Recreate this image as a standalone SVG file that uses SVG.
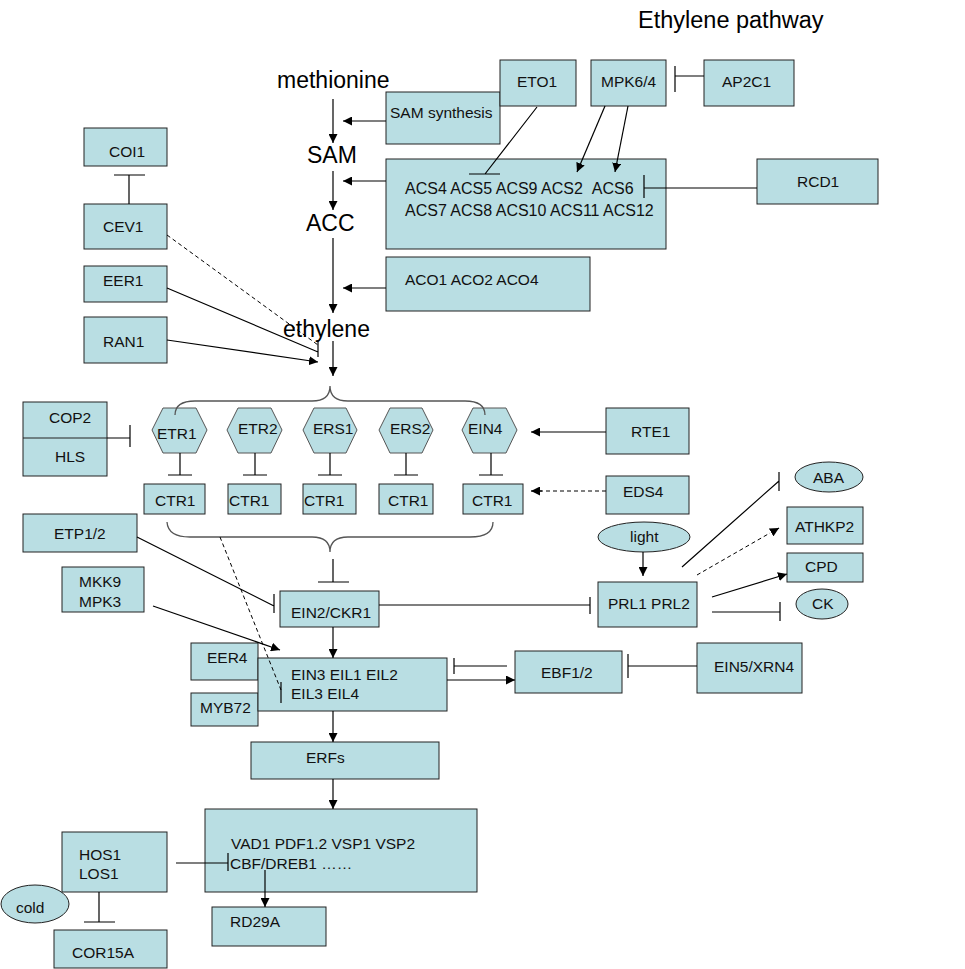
<svg xmlns="http://www.w3.org/2000/svg" width="965" height="969" viewBox="0 0 965 969">
<defs>
<marker id="ah" viewBox="0 0 10 10" refX="10" refY="5" markerWidth="9" markerHeight="9" markerUnits="userSpaceOnUse" orient="auto">
<path d="M0,0 L10,5 L0,10 z" fill="#000"/>
</marker>
</defs>
<style>
.b{fill:#b9dee3;stroke:#222;stroke-width:1}
.h{fill:#b9dee3;stroke:#555;stroke-width:1}
text{font-family:"Liberation Sans",Arial,sans-serif;font-size:15.5px;fill:#111}
.big{font-size:23px;fill:#000}
.l{stroke:#000;stroke-width:1.2;fill:none}
.a{stroke:#000;stroke-width:1.2;fill:none;marker-end:url(#ah)}
.d{stroke:#000;stroke-width:1;fill:none;stroke-dasharray:4,3}
.br{stroke:#555;stroke-width:1.3;fill:none}
</style>
<rect width="965" height="969" fill="#fff"/>
<text x="638" y="28" class="big" style="font-size:23.5px">Ethylene pathway</text>
<text x="277" y="88" class="big">methionine</text>
<text x="307" y="163" class="big">SAM</text>
<text x="306" y="231" class="big">ACC</text>
<text x="283" y="337" class="big">ethylene</text>

<g id="sam-synthesis"><rect class="b" x="386" y="92" width="114" height="52"/><text x="390" y="118">SAM synthesis</text></g>
<g id="eto1"><rect class="b" x="500" y="60" width="76" height="46"/><text x="517" y="87">ETO1</text></g>
<g id="mpk64"><rect class="b" x="591" y="60" width="75" height="46"/><text x="601" y="87">MPK6/4</text></g>
<g id="ap2c1"><rect class="b" x="704" y="60" width="90" height="46"/><text x="722" y="87">AP2C1</text></g>
<g id="acs"><rect class="b" x="386" y="159" width="280" height="90"/><text x="405" y="194" style="font-size:16px">ACS4 ACS5 ACS9 ACS2 &#160;ACS6</text><text x="405" y="216" style="font-size:16px">ACS7 ACS8 ACS10 ACS11 ACS12</text></g>
<g id="rcd1"><rect class="b" x="757" y="159" width="121" height="45"/><text x="797" y="187">RCD1</text></g>
<g id="aco"><rect class="b" x="386" y="257" width="204" height="54"/><text x="405" y="285">ACO1 ACO2 ACO4</text></g>
<g id="coi1"><rect class="b" x="84" y="128" width="83" height="38"/><text x="109" y="157">COI1</text></g>
<g id="cev1"><rect class="b" x="84" y="204" width="83" height="45"/><text x="103" y="232">CEV1</text></g>
<g id="eer1"><rect class="b" x="84" y="266" width="83" height="36"/><text x="103" y="286">EER1</text></g>
<g id="ran1"><rect class="b" x="84" y="317" width="83" height="46"/><text x="103" y="347">RAN1</text></g>
<g id="cop2-hls"><rect class="b" x="23" y="402" width="84" height="74"/><line x1="23" y1="438" x2="107" y2="438" stroke="#222"/><text x="49" y="423">COP2</text><text x="55" y="462">HLS</text></g>
<g id="etr1"><polygon class="h" points="152,430 163,408 196,408 207,430 196,453 163,453"/><text x="157" y="439">ETR1</text></g>
<g id="etr2"><polygon class="h" points="227,430 238,408 271,408 282,430 271,453 238,453"/><text x="238" y="434">ETR2</text></g>
<g id="ers1"><polygon class="h" points="303,430 314,408 346,408 357,430 346,453 314,453"/><text x="313" y="434">ERS1</text></g>
<g id="ers2"><polygon class="h" points="379,430 390,408 422,408 433,430 422,453 390,453"/><text x="390" y="434">ERS2</text></g>
<g id="ein4"><polygon class="h" points="462,430 473,408 506,408 517,430 506,453 473,453"/><text x="468" y="434">EIN4</text></g>
<g id="ctr1-a"><rect class="b" x="144" y="484" width="61" height="30"/><text x="155" y="506">CTR1</text></g>
<g id="ctr1-b"><rect class="b" x="228" y="484" width="53" height="30"/><text x="229" y="506">CTR1</text></g>
<g id="ctr1-c"><rect class="b" x="303" y="484" width="53" height="30"/><text x="304" y="506">CTR1</text></g>
<g id="ctr1-d"><rect class="b" x="379" y="484" width="54" height="30"/><text x="388" y="506">CTR1</text></g>
<g id="ctr1-e"><rect class="b" x="463" y="484" width="60" height="30"/><text x="472" y="506">CTR1</text></g>
<g id="rte1"><rect class="b" x="606" y="408" width="83" height="46"/><text x="631" y="437">RTE1</text></g>
<g id="eds4"><rect class="b" x="606" y="476" width="83" height="38"/><text x="623" y="497">EDS4</text></g>
<g id="etp12"><rect class="b" x="23" y="514" width="114" height="38"/><text x="54" y="539">ETP1/2</text></g>
<g id="mkk9"><rect class="b" x="62" y="567" width="82" height="45"/><text x="79" y="587">MKK9</text><text x="79" y="607">MPK3</text></g>
<g id="ein2"><rect class="b" x="280" y="591" width="99" height="36"/><text x="291" y="618">EIN2/CKR1</text></g>
<g id="light"><ellipse class="b" cx="644" cy="537" rx="46" ry="15"/><text x="630" y="542">light</text></g>
<g id="prl"><rect class="b" x="598" y="582" width="99" height="45"/><text x="608" y="609">PRL1 PRL2</text></g>
<g id="aba"><ellipse class="b" cx="829" cy="477" rx="34" ry="15"/><text x="813" y="483">ABA</text></g>
<g id="athkp2"><rect class="b" x="787" y="507" width="76" height="37"/><text x="795" y="532">ATHKP2</text></g>
<g id="cpd"><rect class="b" x="787" y="553" width="76" height="29"/><text x="805" y="572">CPD</text></g>
<g id="ck"><ellipse class="b" cx="822" cy="604" rx="26" ry="15"/><text x="812" y="609">CK</text></g>
<g id="eer4"><rect class="b" x="191" y="643" width="67" height="37"/><text x="207" y="663">EER4</text></g>
<g id="myb72"><rect class="b" x="191" y="693" width="67" height="33"/><text x="200" y="713">MYB72</text></g>
<g id="ein3"><rect class="b" x="258" y="658" width="189" height="53"/><text x="291" y="680">EIN3 EIL1 EIL2</text><text x="291" y="699">EIL3 EIL4</text></g>
<g id="ebf12"><rect class="b" x="515" y="651" width="107" height="42"/><text x="541" y="678">EBF1/2</text></g>
<g id="ein5"><rect class="b" x="697" y="643" width="105" height="50"/><text x="714" y="672">EIN5/XRN4</text></g>
<g id="erfs"><rect class="b" x="251" y="742" width="188" height="37"/><text x="306" y="763">ERFs</text></g>
<g id="vad"><rect class="b" x="205" y="809" width="272" height="83"/><text x="231" y="849">VAD1 PDF1.2 VSP1 VSP2</text><text x="230" y="869">CBF/DREB1 ……</text></g>
<g id="hos1"><rect class="b" x="62" y="832" width="105" height="60"/><text x="79" y="860">HOS1</text><text x="79" y="879">LOS1</text></g>
<g id="cold"><ellipse class="b" cx="35" cy="904" rx="34" ry="19"/><text x="16" y="913">cold</text></g>
<g id="cor15a"><rect class="b" x="54" y="930" width="113" height="38"/><text x="72" y="958">COR15A</text></g>
<g id="rd29a"><rect class="b" x="212" y="907" width="114" height="39"/><text x="230" y="927">RD29A</text></g>

<g id="connectors">
<path class="a" d="M333,99 L333,143"/>
<path class="a" d="M333,171 L333,210"/>
<path class="a" d="M333,238 L333,313"/>
<path class="a" d="M333,341 L333,376"/>
<path class="a" d="M386,121 L343,121"/>
<path class="a" d="M386,181 L343,181"/>
<path class="a" d="M386,288 L343,288"/>
<path class="l" d="M704,76 L675,76 M675,66 L675,92"/>
<path class="l" d="M537,107 L485,174 M469,174 L500,174"/>
<path class="a" d="M605,106 L577,172"/>
<path class="a" d="M628,106 L615,172"/>
<path class="l" d="M757,188 L644,188 M644,175 L644,198"/>
<path class="l" d="M129,204 L129,175 M114,175 L145,175"/>
<path class="d" d="M167,235 L318,345"/>
<path class="l" d="M167,288 L318,352 M318,340 L318,357"/>
<path class="a" d="M167,340 L318,362"/>
<path class="br" d="M175,415 Q175,401 195,401 L312,401 Q330,401 330,386 Q330,401 348,401 L465,401 Q485,401 485,415"/>
<path class="l" d="M107,438 L130,438 M130,425 L130,447"/>
<path class="l" d="M180,453 L180,475 M168,475 L192,475"/>
<path class="l" d="M255,453 L255,475 M243,475 L267,475"/>
<path class="l" d="M330,453 L330,475 M318,475 L342,475"/>
<path class="l" d="M406,453 L406,475 M394,475 L418,475"/>
<path class="l" d="M491,453 L491,475 M479,475 L503,475"/>
<path class="a" d="M606,432 L531,432"/>
<path class="d" d="M606,491 L540,491"/>
<path class="a" d="M542,491 L531,491"/>
<path class="br" d="M167,522 Q168,537 190,537 L312,537 Q330,537 330,552 Q330,537 348,537 L470,537 Q493,537 493,522"/>
<path class="l" d="M333,559 L333,582 M318,582 L349,582"/>
<path class="l" d="M137,537 L274,606 M274,594 L274,613"/>
<path class="a" d="M153,606 L280,650"/>
<path class="d" d="M220,537 L281,690"/>
<path class="l" d="M281,682 L281,703"/>
<path class="a" d="M333,627 L333,658"/>
<path class="l" d="M379,605 L590,605 M590,597 L590,614"/>
<path class="a" d="M643,552 L643,576"/>
<path class="l" d="M682,567 L779,481 M779,472 L779,491"/>
<path class="d" d="M697,575 L770,533"/>
<path class="a" d="M772,532 L779,528"/>
<path class="a" d="M712,597 L787,574"/>
<path class="l" d="M712,612 L780,612 M780,602 L780,621"/>
<path class="l" d="M697,666 L628,666 M628,654 L628,678"/>
<path class="l" d="M507,666 L454,666 M454,658 L454,674"/>
<path class="a" d="M447,680 L515,680"/>
<path class="a" d="M333,711 L333,742"/>
<path class="a" d="M333,779 L333,809"/>
<path class="l" d="M176,863 L228,863 M228,853 L228,871"/>
<path class="a" d="M265,870 L265,907"/>
<path class="l" d="M99,892 L99,922 M84,922 L115,922"/>
</g>
</svg>
